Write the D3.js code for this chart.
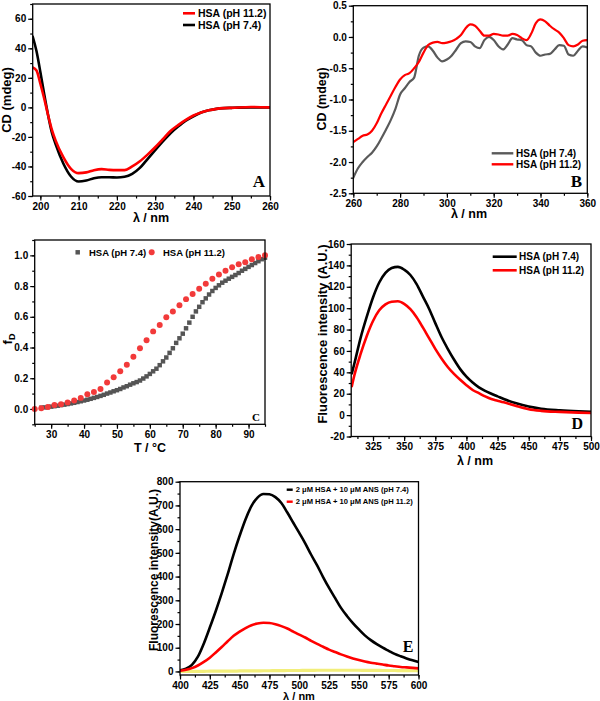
<!DOCTYPE html>
<html><head><meta charset="utf-8">
<script src="https://cdn.jsdelivr.net/npm/d3@7"></script>
<style>
body{margin:0;background:#fff}
svg{display:block}
text{font-family:"Liberation Sans",Arial,sans-serif;font-weight:bold;fill:#000}
</style>
</head><body><svg id="c" width="600" height="701"></svg>
<script>
// ---------- Panel A: far-UV CD ----------
const aWave   = [198,199,200,201,202,203,204,206,208,210,212,214,216,218,220,222,224,226,228,230,232,234,236,238,240,242,244,246,248,250,255,260];
const aPH74   = [48,38,24,9,-5,-17,-25,-38,-46.8,-50.2,-49.5,-48,-47.3,-47.3,-47.5,-47,-45,-41,-35,-29,-23,-17.5,-13,-9,-6,-3.5,-2,-1,-0.5,-0.3,0,0];
const aPH112  = [27,25,16,6,-5,-15,-22.5,-33.7,-41.6,-44.5,-44,-42.5,-41.8,-42.3,-42.5,-42.5,-40,-36.5,-32,-27,-21.5,-16,-12,-8.5,-5.5,-3.5,-2,-1,-0.5,-0.3,0.3,0];
const aXTicks = [200,210,220,230,240,250,260];
const aYTicks = [-60,-40,-20,0,20,40,60];

// ---------- Panel B: near-UV CD ----------
const bWave  = [260,262,264,266,268,270,272,274,276,278,280,282,284,286,288,290,292,294,296,298,300,302,304,306,308,310,312,314,316,318,320,322,324,326,328,330,332,334,336,338,340,342,344,346,348,350,352,354,356,358,360];
const bPH74  = [-2.25,-2.1,-2.0,-1.92,-1.85,-1.75,-1.62,-1.48,-1.33,-1.15,-0.92,-0.82,-0.72,-0.65,-0.3,-0.17,-0.15,-0.22,-0.33,-0.39,-0.36,-0.3,-0.2,-0.1,-0.07,-0.08,-0.15,-0.18,-0.05,0.0,-0.05,-0.15,-0.2,-0.12,-0.02,-0.04,-0.05,-0.13,-0.15,-0.25,-0.3,-0.28,-0.27,-0.2,-0.13,-0.14,-0.28,-0.3,-0.22,-0.15,-0.17];
const bPH112 = [-1.68,-1.63,-1.58,-1.56,-1.5,-1.38,-1.22,-1.08,-0.94,-0.8,-0.68,-0.61,-0.58,-0.5,-0.4,-0.25,-0.13,-0.09,-0.08,-0.1,-0.09,-0.07,-0.03,0.03,0.14,0.2,0.18,0.1,0.02,0.02,0.05,0.04,0.02,0.02,0.05,0.03,-0.02,-0.05,0.05,0.22,0.28,0.25,0.18,0.12,0.07,-0.02,-0.13,-0.15,-0.12,-0.06,-0.05];
const bXTicks = [260,280,300,320,340,360];
const bYTicks = [-2.5,-2.0,-1.5,-1.0,-0.5,0.0,0.5];

// ---------- Panel C: thermal denaturation ----------
const cTempGray = [27,28,29,30,31,32,33,34,35,36,37,38,39,40,41,42,43,44,45,46,47,48,49,50,51,52,53,54,55,56,57,58,59,60,61,62,63,64,65,66,67,68,69,70,71,72,73,74,75,76,77,78,79,80,81,82,83,84,85,86,87,88,89,90,91,92,93,94,95];
const cPH74 = [0.008,0.01,0.012,0.015,0.018,0.021,0.025,0.028,0.032,0.036,0.04,0.045,0.05,0.055,0.06,0.066,0.072,0.078,0.085,0.092,0.1,0.107,0.115,0.122,0.13,0.14,0.148,0.158,0.167,0.175,0.185,0.198,0.212,0.228,0.245,0.262,0.285,0.31,0.335,0.365,0.395,0.43,0.46,0.49,0.525,0.562,0.6,0.635,0.665,0.695,0.72,0.745,0.768,0.788,0.805,0.822,0.835,0.848,0.86,0.872,0.885,0.9,0.912,0.925,0.937,0.95,0.962,0.975,0.985];
const cTempRed = [25,27,29,31,33,35,37,39,41,43,45,47,49,51,53,55,57,59,61,63,65,67,69,71,73,75,77,79,81,83,85,87,89,91,93,95];
const cPH112 = [0,0.005,0.012,0.025,0.03,0.042,0.055,0.072,0.095,0.11,0.13,0.172,0.207,0.245,0.288,0.34,0.395,0.447,0.505,0.547,0.597,0.635,0.675,0.715,0.748,0.782,0.815,0.847,0.875,0.9,0.922,0.942,0.955,0.975,0.99,1.0];
const cXTicks = [30,40,50,60,70,80,90];
const cYTicks = [0.0,0.2,0.4,0.6,0.8,1.0];

// ---------- Panel D: intrinsic fluorescence ----------
const dWave  = [308,310,315,320,325,330,335,340,345,350,355,360,365,370,375,380,385,390,395,400,405,410,415,420,425,430,440,450,460,475,490,500];
const dPH74  = [39,48,72,92,110,124,133,137.5,138.6,136,131,122.5,111,99.5,86,73,62,52,43,36,30.5,26,22.7,20,17.5,15,11,8,6,4.5,3.5,3];
const dPH112 = [27,37,57,74,88,98,103.5,106,106.5,104,99,91.5,82,72,62,53,45,38.5,33,28,23.5,20.5,17.5,15,13.5,12,8.5,5.5,4,3,2.3,2];
const dXTicks = [325,350,375,400,425,450,475,500];
const dYTicks = [-20,0,20,40,60,80,100,120,140,160];

// ---------- Panel E: ANS fluorescence ----------
const eWave  = [400,405,410,415,420,425,430,435,440,445,450,455,460,465,470,475,480,485,490,495,500,505,510,515,520,525,530,535,540,545,550,555,560,565,570,575,580,585,590,595,600];
const ePH74  = [5,12,28,62,118,185,255,330,410,495,572,642,698,733,748,747,735,710,670,627,584,540,492,447,398,352,310,268,234,204,177,152,132,115,100,87,74,64,55,47,40];
const ePH112 = [3,7,14,25,40,58,80,103,127,150,168,183,195,202,205,204,199,191,181,168,155,143,129,116,104,92,82,72,63,55,48,42,37,33,29,25,22,19,17,15,13];
const eBlank = [0,0,0.5,0.5,0.5,1,1,1,1.5,1.5,2,2,2.5,2.5,3,3,3.5,3.5,4,4,4,4.5,4.5,5,5,5,5,5,5,5,5,4.5,4.5,4.5,4,4,4,3.5,3.5,3,3];
const eXTicks = [400,425,450,475,500,525,550,575,600];
const eYTicks = [0,100,200,300,400,500,600,700,800];

const svg = d3.select("#c");
const hy = f => v => f(v).replace("\u2212","-");

function panel(o){
  const g = svg.append("g");
  const x = d3.scaleLinear().domain(o.xd).range([o.l,o.r]);
  const y = d3.scaleLinear().domain(o.yd).range([o.b,o.t]);
  const cid = "clip" + o.name;
  svg.append("clipPath").attr("id",cid).append("rect")
    .attr("x",o.l).attr("y",o.t).attr("width",o.r-o.l).attr("height",o.b-o.t);

  const bx = g.append("g").attr("transform",`translate(0,${o.b})`);
  bx.append("g").call(d3.axisBottom(x).tickValues(o.xm).tickSize(2.5).tickFormat(""));
  bx.append("g").call(d3.axisBottom(x).tickValues(o.xt).tickSize(4.5).tickPadding(2).tickFormat(o.xf));
  const ly = g.append("g").attr("transform",`translate(${o.l},0)`);
  ly.append("g").call(d3.axisLeft(y).tickValues(o.ym).tickSize(2.5).tickFormat(""));
  ly.append("g").call(d3.axisLeft(y).tickValues(o.yt).tickSize(4.5).tickPadding(2).tickFormat(o.yf));
  g.selectAll(".domain").remove();
  g.selectAll(".tick line").attr("stroke","#000").attr("stroke-width",1.2);
  g.selectAll(".tick text").style("font-size","10px").style("font-weight","bold").attr("fill","#000");

  const pg = g.append("g").attr("clip-path",`url(#${cid})`);
  (o.lines||[]).forEach(s=>{
    const pts = s.xs.map((v,i)=>[v,s.ys[i]]);
    pg.append("path").datum(pts)
      .attr("fill","none").attr("stroke",s.color).attr("stroke-width",s.w)
      .attr("stroke-linejoin","round").attr("stroke-linecap","round")
      .attr("d",d3.line().x(d=>x(d[0])).y(d=>y(d[1])).curve(d3.curveMonotoneX));
  });
  (o.points||[]).forEach(s=>{
    const pts = s.xs.map((v,i)=>[v,s.ys[i]]);
    const sym = d3.symbol().type(s.type==="square"?d3.symbolSquare:d3.symbolCircle).size(s.size);
    g.append("g").selectAll("path").data(pts).join("path")
      .attr("transform",d=>`translate(${x(d[0])},${y(d[1])})`)
      .attr("d",sym).attr("fill",s.color);
  });

  g.append("rect").attr("x",o.l).attr("y",o.t).attr("width",o.r-o.l).attr("height",o.b-o.t)
    .attr("fill","none").attr("stroke","#000").attr("stroke-width",1.3);

  g.append("text").attr("x",o.xlx).attr("y",o.xly).attr("text-anchor","middle")
    .style("font-size",o.xls+"px").text(o.xlabel);
  const yt = g.append("text").attr("transform",`translate(${o.ylx},${o.yly}) rotate(-90)`)
    .attr("text-anchor","middle").style("font-size",o.yls+"px");
  if(o.ysub){
    yt.append("tspan").text(o.ylabel);
    yt.append("tspan").attr("dy",3).style("font-size",(o.yls*0.7)+"px").text(o.ysub);
  } else yt.text(o.ylabel);

  g.append("text").attr("x",o.letX).attr("y",o.letY).attr("text-anchor","end")
    .style("font-family",'"Liberation Serif","Times New Roman",serif')
    .style("font-size",o.letS+"px").text(o.letter);

  (o.legend||[]).forEach(L=>{
    if(L.kind==="line"){
      g.append("line").attr("x1",L.x1).attr("x2",L.x2).attr("y1",L.y).attr("y2",L.y)
        .attr("stroke",L.color).attr("stroke-width",L.w);
    } else {
      const sym = d3.symbol().type(L.kind==="square"?d3.symbolSquare:d3.symbolCircle).size(L.size);
      g.append("path").attr("transform",`translate(${L.x1},${L.y})`).attr("d",sym).attr("fill",L.color);
    }
    g.append("text").attr("x",L.tx).attr("y",L.y).attr("dy","0.35em")
      .style("font-size",L.fs+"px").text(L.text);
  });
}

const RED = "#ff0000";

// A
panel({name:"A", l:32.7, r:270, t:4, b:196, xd:[198,260], yd:[-60,70],
  xt:aXTicks, xm:d3.range(200,261,5), yt:aYTicks, ym:d3.range(-60,71,10),
  xf:d3.format("d"), yf:hy(d3.format("d")),
  lines:[{xs:aWave,ys:aPH74,color:"#000",w:2.6},{xs:aWave,ys:aPH112,color:RED,w:2.6}],
  xlabel:"λ / nm", xlx:151, xly:222, xls:12.5,
  ylabel:"CD (mdeg)", ylx:11, yly:100, yls:13,
  letter:"A", letX:265, letY:187, letS:17,
  legend:[
    {kind:"line",x1:183,x2:195,y:13.3,color:RED,w:2.6,tx:198,fs:10.5,text:"HSA (pH 11.2)"},
    {kind:"line",x1:183,x2:195,y:25,color:"#000",w:2.6,tx:198,fs:10.5,text:"HSA (pH 7.4)"}
  ]});

// B
panel({name:"B", l:353.3, r:587.3, t:5.7, b:193.3, xd:[260,360], yd:[-2.5,0.5],
  xt:bXTicks, xm:d3.range(260,361,10), yt:bYTicks, ym:d3.range(-2.5,0.51,0.25),
  xf:d3.format("d"), yf:hy(d3.format(".1f")),
  lines:[{xs:bWave,ys:bPH74,color:"#5a5a5a",w:2.2},{xs:bWave,ys:bPH112,color:RED,w:2.2}],
  xlabel:"λ / nm", xlx:469, xly:218, xls:12.5,
  ylabel:"CD (mdeg)", ylx:325.5, yly:99, yls:12.5,
  letter:"B", letX:582, letY:187, letS:17,
  legend:[
    {kind:"line",x1:491.7,x2:513.3,y:153.3,color:"#5a5a5a",w:2.4,tx:516,fs:10,text:"HSA (pH 7.4)"},
    {kind:"line",x1:491.7,x2:513.3,y:164.3,color:RED,w:2.4,tx:516,fs:10,text:"HSA (pH 11.2)"}
  ]});

// C
panel({name:"C", l:34.7, r:265, t:240, b:424.3, xd:[25,95], yd:[-0.1,1.1],
  xt:cXTicks, xm:d3.range(25,96,5), yt:cYTicks, ym:d3.range(-0.1,1.11,0.1),
  xf:d3.format("d"), yf:hy(d3.format(".1f")),
  points:[{xs:cTempGray,ys:cPH74,type:"square",color:"#555555",size:20},
          {xs:cTempRed,ys:cPH112,type:"circle",color:"#f23a3a",size:28}],
  xlabel:"T / °C", xlx:150, xly:452, xls:12.5,
  ylabel:"f", ysub:"D", ylx:12, yly:339, yls:13,
  letter:"C", letX:260, letY:420.5, letS:11,
  legend:[
    {kind:"square",x1:77.7,y:252.3,color:"#555555",size:20,tx:89,fs:9.5,text:"HSA (pH 7.4)"},
    {kind:"circle",x1:151.7,y:252.3,color:"#f23a3a",size:28,tx:163,fs:9.5,text:"HSA (pH 11.2)"}
  ]});

// D
panel({name:"D", l:351.2, r:591, t:244, b:436.5, xd:[307.5,500], yd:[-20,160],
  xt:dXTicks, xm:d3.range(312.5,500.1,12.5), yt:dYTicks, ym:d3.range(-20,161,10),
  xf:d3.format("d"), yf:hy(d3.format("d")),
  lines:[{xs:dWave,ys:dPH74,color:"#000",w:2.6},{xs:dWave,ys:dPH112,color:RED,w:2.6}],
  xlabel:"λ / nm", xlx:475, xly:465, xls:12.5,
  ylabel:"Fluorescence intensity (A.U.)", ylx:327, yly:334, yls:13,
  letter:"D", letX:583, letY:429, letS:16,
  legend:[
    {kind:"line",x1:492.7,x2:516.7,y:256.7,color:"#000",w:2.6,tx:519,fs:10,text:"HSA (pH 7.4)"},
    {kind:"line",x1:492.7,x2:516.7,y:270.3,color:RED,w:2.6,tx:519,fs:10,text:"HSA (pH 11.2)"}
  ]});

// E
panel({name:"E", l:180, r:418.5, t:481.7, b:675, xd:[400,600], yd:[-15,800],
  xt:eXTicks, xm:d3.range(400,601,12.5), yt:eYTicks, ym:d3.range(0,801,50),
  xf:d3.format("d"), yf:hy(d3.format("d")),
  lines:[{xs:eWave,ys:eBlank,color:"#f2ee7a",w:3.2},
         {xs:eWave,ys:ePH74,color:"#000",w:2.6},{xs:eWave,ys:ePH112,color:RED,w:2.6}],
  xlabel:"λ / nm", xlx:299, xly:699.5, xls:11,
  ylabel:"Fluorescence  intensity(A.U.)", ylx:157.5, yly:570, yls:12,
  letter:"E", letX:413.5, letY:652, letS:16,
  legend:[
    {kind:"line",x1:286.7,x2:292.7,y:489.7,color:"#000",w:2.4,tx:295.7,fs:7.6,text:"2 μM HSA + 10 μM ANS (pH 7.4)"},
    {kind:"line",x1:286.7,x2:292.7,y:501.7,color:RED,w:2.4,tx:295.7,fs:7.6,text:"2 μM HSA + 10 μM ANS (pH 11.2)"}
  ]});
</script>
</body></html>
